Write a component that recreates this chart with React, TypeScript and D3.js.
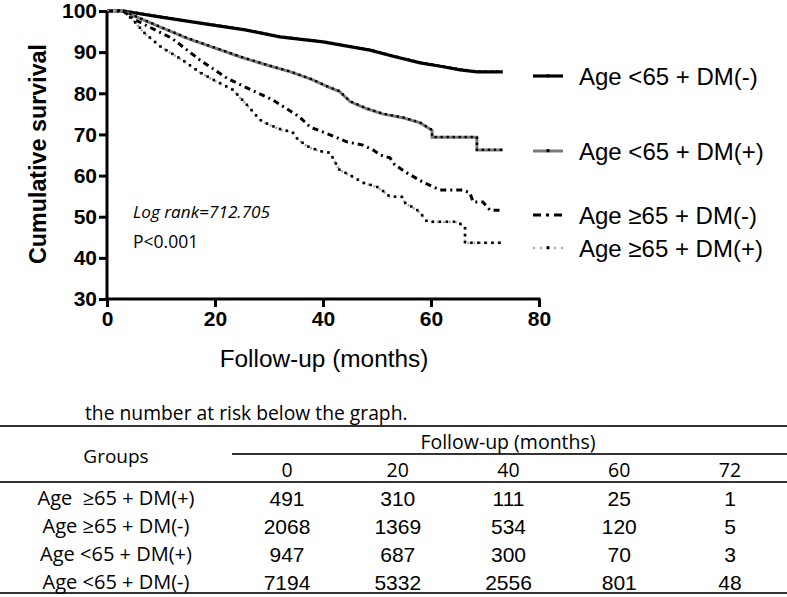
import React, { useEffect, useRef } from "react";
import * as d3 from "d3";

// ---- survival curves (months, cumulative survival %) ----
const lt65DMnegMonths = [0, 3, 10, 20, 25.6, 32, 40, 48.7, 53, 58, 62, 65.4, 68.5, 73.3];
const lt65DMnegSurv = [100, 100, 98.5, 96.5, 95.4, 93.7, 92.5, 90.5, 89, 87.4, 86.5, 85.7, 85.2, 85.2];

const lt65DMposMonths = [0, 3, 5, 10, 15, 20, 25, 30, 34, 38, 41, 43, 45, 48, 51, 55, 58, 60.2, 60.2, 68.5, 68.5, 73.3];
const lt65DMposSurv = [100, 100, 98.8, 96, 93.3, 91, 88.7, 86.7, 85.2, 83.3, 81.5, 80.5, 78, 76.3, 75, 74, 72.8, 71, 69.3, 69.3, 66.2, 66.2];

const ge65DMnegMonths = [0, 3, 5, 8, 12, 17.2, 22.2, 25.6, 30.7, 35.7, 37.6, 41.3, 44.4, 47.4, 49.3, 50.6, 52.4, 53.3, 55.6, 58.5, 61.7, 65.9, 67.2, 67.8, 69.6, 70.9, 73.3];
const ge65DMnegSurv = [100, 100, 98, 96, 93.4, 88.1, 83.7, 81.5, 78.4, 74.2, 71.8, 69.9, 68.2, 67.4, 66.2, 65, 64.3, 62.6, 60.6, 58.4, 56.5, 56.5, 55.8, 53.6, 53.6, 51.6, 51.6];

const ge65DMposMonths = [0, 3, 5, 7, 10, 14, 17.2, 20, 23.3, 26, 28.3, 30, 32.5, 34.3, 35.4, 37.6, 40, 41.3, 42.2, 43, 45.6, 47.4, 50, 51.3, 52.4, 54.6, 55.2, 57.4, 58.3, 59.3, 64.8, 66.3, 66.3, 73.3];
const ge65DMposSurv = [100, 100, 97.5, 94.5, 91.2, 88, 85, 83, 80.8, 77, 73.5, 72.3, 71, 70.6, 68.6, 66.7, 65.7, 65.5, 63.3, 61.4, 59.6, 58.2, 57.2, 56, 54.8, 54.8, 53.3, 51.6, 50.4, 48.7, 48.7, 47.5, 43.6, 43.6];

const legendLabels = ["Age <65 + DM(-)", "Age <65 + DM(+)", "Age \u226565 + DM(-)", "Age \u226565 + DM(+)"];

const yTicks = [30, 40, 50, 60, 70, 80, 90, 100];
const xTicks = [0, 20, 40, 60, 80];

// ---- number at risk table ----
const riskTimes = ["0", "20", "40", "60", "72"];
const riskGroups = ["Age  \u226565 + DM(+)", "Age \u226565 + DM(-)", "Age <65 + DM(+)", "Age <65 + DM(-)"];
const riskGe65DMpos = [491, 310, 111, 25, 1];
const riskGe65DMneg = [2068, 1369, 534, 120, 5];
const riskLt65DMpos = [947, 687, 300, 70, 3];
const riskLt65DMneg = [7194, 5332, 2556, 801, 48];

const ARIAL = "'Liberation Sans', Arial, sans-serif";
const CAL = "'Open Sans', 'Noto Sans', sans-serif";

export default function App() {
  const ref = useRef<SVGSVGElement | null>(null);

  useEffect(() => {
    const svg = d3.select(ref.current);
    svg.selectAll("*").remove();

    const x = d3.scaleLinear().domain([0, 80]).range([107, 539]);
    const y = d3.scaleLinear().domain([30, 100]).range([299, 11]);

    const series = [
      { m: lt65DMnegMonths, s: lt65DMnegSurv, stroke: "#000", width: 3.2, dash: null, dots: "#000", dotSize: 2.6 },
      { m: lt65DMposMonths, s: lt65DMposSurv, stroke: "#7a7a7a", width: 3, dash: null, dots: "#000", dotSize: 2.4 },
      { m: ge65DMnegMonths, s: ge65DMnegSurv, stroke: "#000", width: 3, dash: "6,4,2,4", dots: null, dotSize: 0 },
      { m: ge65DMposMonths, s: ge65DMposSurv, stroke: "#aaaaaa", width: 2.6, dash: "2,4", dots: "#000", dotSize: 2.6 },
    ];

    const line = d3
      .line<[number, number]>()
      .x((d) => x(d[0]))
      .y((d) => y(d[1]));

    const g = svg.append("g");
    series.forEach((sr) => {
      const pts: [number, number][] = sr.m.map((mm, i) => [mm, sr.s[i]]);
      const p = g
        .append("path")
        .attr("d", line(pts))
        .attr("fill", "none")
        .attr("stroke", sr.stroke)
        .attr("stroke-width", sr.width);
      if (sr.dash) p.attr("stroke-dasharray", sr.dash);
      if (sr.dots) {
        const path = p.node() as SVGPathElement;
        const len = path.getTotalLength();
        const step = sr === series[3] ? 7 : 6;
        for (let l = 12; l < len; l += step) {
          const pt = path.getPointAtLength(l);
          g.append("rect")
            .attr("x", pt.x - sr.dotSize / 2)
            .attr("y", pt.y - sr.dotSize / 2 - 0.3)
            .attr("width", sr.dotSize)
            .attr("height", sr.dotSize)
            .attr("fill", sr.dots);
        }
      }
    });

    // axes
    const yAxis = svg
      .append("g")
      .attr("transform", `translate(${x(0)},0)`)
      .call(d3.axisLeft(y).tickValues(yTicks).tickSize(8).tickPadding(2));
    const xAxis = svg
      .append("g")
      .attr("transform", `translate(0,${y(30)})`)
      .call(d3.axisBottom(x).tickValues(xTicks).tickSize(8).tickPadding(4));
    [yAxis, xAxis].forEach((a) => {
      a.select(".domain").attr("stroke", "#000").attr("stroke-width", 3);
      a.selectAll(".tick line").attr("stroke", "#000").attr("stroke-width", 3);
      a.selectAll(".tick text")
        .attr("fill", "#000")
        .style("font-family", ARIAL)
        .style("font-size", "21px")
        .style("font-weight", "bold");
    });
    yAxis.select(".domain").attr("d", `M0,${y(30) + 1.5}V${y(100)}`);
    xAxis.select(".domain").attr("d", `M${x(0) - 1.5},0H${x(80) + 1.5}`);

    svg
      .append("text")
      .attr("transform", `translate(46,154) rotate(-90)`)
      .attr("text-anchor", "middle")
      .style("font-family", ARIAL)
      .style("font-size", "23.3px")
      .style("font-weight", "bold")
      .text("Cumulative survival");

    svg
      .append("text")
      .attr("x", 324)
      .attr("y", 367)
      .attr("text-anchor", "middle")
      .style("font-family", ARIAL)
      .style("font-size", "24.4px")
      .text("Follow-up (months)");

    svg
      .append("text")
      .attr("x", 133)
      .attr("y", 218)
      .style("font-family", CAL)
      .style("font-size", "17.2px")
      .style("font-style", "italic")
      .text("Log rank=712.705");
    svg
      .append("text")
      .attr("x", 133)
      .attr("y", 248)
      .style("font-family", CAL)
      .style("font-size", "17.5px")
      .text("P<0.001");

    // legend
    const legY = [76, 151, 215, 248];
    legendLabels.forEach((lab, i) => {
      const ly = legY[i];
      const sr = series[i];
      const l = svg
        .append("line")
        .attr("x1", 533)
        .attr("x2", 563)
        .attr("y1", ly)
        .attr("y2", ly)
        .attr("stroke", sr.stroke)
        .attr("stroke-width", sr.width);
      if (i === 2) l.attr("stroke-dasharray", "8,5,3,5");
      if (i === 3) l.attr("stroke-dasharray", "2,5");
      if (sr.dots)
        svg
          .append("rect")
          .attr("x", 548 - 1.5)
          .attr("y", ly - 1.8)
          .attr("width", 3)
          .attr("height", 3)
          .attr("fill", "#000");
      svg
        .append("text")
        .attr("x", 579)
        .attr("y", ly + 8.5)
        .style("font-family", ARIAL)
        .style("font-size", "24px")
        .text(lab);
    });

    // table
    const t = svg.append("g");
    t.append("text")
      .attr("x", 85)
      .attr("y", 420)
      .style("font-family", CAL)
      .style("font-size", "19.3px")
      .text("the number at risk below the graph.");
    const hl = (x1: number, x2: number, yy: number) =>
      t.append("line").attr("x1", x1).attr("x2", x2).attr("y1", yy).attr("y2", yy).attr("stroke", "#333").attr("stroke-width", 1.8);
    hl(0, 787, 426);
    hl(232, 787, 454);
    hl(0, 787, 482);
    hl(0, 787, 593);

    t.append("text")
      .attr("x", 116)
      .attr("y", 463)
      .attr("text-anchor", "middle")
      .style("font-family", CAL)
      .style("font-size", "19px")
      .text("Groups");
    t.append("text")
      .attr("x", 508)
      .attr("y", 449)
      .attr("text-anchor", "middle")
      .style("font-family", CAL)
      .style("font-size", "19.5px")
      .text("Follow-up (months)");

    const colX = d3.scalePoint<string>().domain(riskTimes).range([287, 730]);
    riskTimes.forEach((tt) => {
      t.append("text")
        .attr("x", colX(tt) as number)
        .attr("y", 477)
        .attr("text-anchor", "middle")
        .style("font-family", CAL)
        .style("font-size", "19.5px")
        .text(tt);
    });

    const rows = [riskGe65DMpos, riskGe65DMneg, riskLt65DMpos, riskLt65DMneg];
    const rowY = d3.scalePoint<number>().domain([0, 1, 2, 3]).range([505, 589]);
    rows.forEach((vals, r) => {
      const yy = rowY(r) as number;
      t.append("text")
        .attr("x", 116)
        .attr("y", yy)
        .attr("text-anchor", "middle")
        .style("font-family", CAL)
        .style("font-size", "20px")
        .style("white-space", "pre")
        .text(riskGroups[r]);
      vals.forEach((v, c) => {
        t.append("text")
          .attr("x", colX(riskTimes[c]) as number)
          .attr("y", yy + 1)
          .attr("text-anchor", "middle")
          .style("font-family", ARIAL)
          .style("font-size", "21px")
          .text(String(v));
      });
    });
  }, []);

  return (
    <>
      <style>{`body{margin:0;background:#fff}`}</style>
      <svg ref={ref} width={787} height={597} style={{ display: "block" }} />
    </>
  );
}
